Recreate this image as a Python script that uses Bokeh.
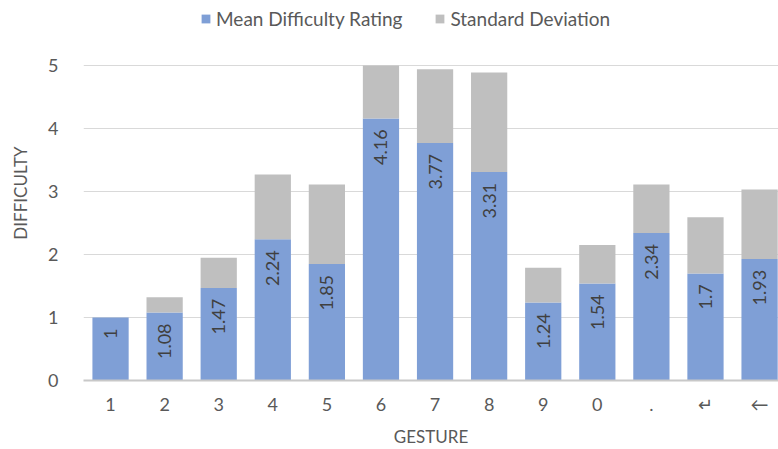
import math
from bokeh.plotting import figure
from bokeh.models import ColumnDataSource, FixedTicker, Range1d, Legend, LegendItem
from bokeh.core.properties import value
from bokeh.embed import file_html
from bokeh.resources import INLINE

gestures = ["1", "2", "3", "4", "5", "6", "7", "8", "9", "0", ".", "\u21b5", "\u2190"]
mean_rating = [1.0, 1.08, 1.47, 2.24, 1.85, 4.16, 3.77, 3.31, 1.24, 1.54, 2.34, 1.7, 1.93]
std_dev = [0.0, 0.24, 0.48, 1.03, 1.26, 0.84, 1.17, 1.58, 0.55, 0.61, 0.77, 0.89, 1.10]
mean_labels = ["1", "1.08", "1.47", "2.24", "1.85", "4.16", "3.77", "3.31", "1.24", "1.54", "2.34", "1.7", "1.93"]
y_ticks = [0, 1, 2, 3, 4, 5]

xs = list(range(len(gestures)))
tops = [m + s for m, s in zip(mean_rating, std_dev)]
src = ColumnDataSource(dict(x=xs, mean=mean_rating, std=std_dev, top=tops, lab=mean_labels))

FONT = "Lato"
GRAY_TXT = "#595959"

# frame spans page y 5..380; value 5 sits at y=65 (63 px per unit)
p = figure(width=778, height=449, output_backend="svg", toolbar_location=None,
           x_range=Range1d(-0.5, 12.35), y_range=Range1d(0, 5.952),
           min_border_left=83, min_border_right=0, min_border_top=5, min_border_bottom=69)
p.outline_line_color = None
p.background_fill_color = "white"
p.border_fill_color = "white"

BLUE = "#7F9FD6"
GRAY = "#BFBFBF"
r1 = p.vbar(x="x", bottom=0, top="mean", width=0.67, source=src, fill_color=BLUE, line_color=None)
r2 = p.vbar(x="x", bottom="mean", top="top", width=0.67, source=src, fill_color=GRAY, line_color=None)

p.text(x="x", y="mean", text="lab", source=src, angle=math.pi / 2, text_align="right",
       text_baseline="middle", y_offset=11, text_font=value(FONT), text_font_size="18px",
       text_color="#404040")

p.xaxis.ticker = FixedTicker(ticks=xs)
p.xaxis.major_label_overrides = {i: g for i, g in enumerate(gestures)}
p.xaxis.major_tick_line_color = None
p.xaxis.minor_tick_line_color = None
p.xaxis.axis_line_color = "#C8C8C8"
p.xaxis.axis_line_width = 2
p.xaxis.major_label_text_font = FONT
p.xaxis.major_label_text_font_size = "18px"
p.xaxis.major_label_text_color = GRAY_TXT
p.xaxis.major_label_standoff = 6
p.xaxis.axis_label = "GESTURE"
p.xaxis.axis_label_text_font = FONT
p.xaxis.axis_label_text_font_style = "normal"
p.xaxis.axis_label_text_font_size = "17px"
p.xaxis.axis_label_text_color = GRAY_TXT
p.xaxis.axis_label_standoff = 8

p.yaxis.ticker = FixedTicker(ticks=y_ticks)
p.yaxis.major_tick_line_color = None
p.yaxis.minor_tick_line_color = None
p.yaxis.axis_line_color = None
p.yaxis.major_label_text_font = FONT
p.yaxis.major_label_text_font_size = "18px"
p.yaxis.major_label_text_color = GRAY_TXT
p.yaxis.major_label_standoff = 19
p.yaxis.axis_label = "DIFFICULTY"
p.yaxis.axis_label_text_font = FONT
p.yaxis.axis_label_text_font_style = "normal"
p.yaxis.axis_label_text_font_size = "17px"
p.yaxis.axis_label_text_color = GRAY_TXT
p.yaxis.axis_label_standoff = 14

p.xgrid.grid_line_color = None
p.ygrid.grid_line_color = "#D9D9D9"
p.ygrid.grid_line_width = 1

legend = Legend(items=[LegendItem(label="Mean Difficulty Rating", renderers=[r1]),
                       LegendItem(label="Standard Deviation", renderers=[r2])],
                orientation="horizontal", location=(117, 350),
                label_text_font=FONT, label_text_font_size="19px", label_text_color=GRAY_TXT,
                glyph_width=11, glyph_height=11, spacing=32, label_standoff=5,
                border_line_color=None, background_fill_alpha=0, padding=0, margin=0)
p.add_layout(legend, "center")

open("out.html", "w").write(file_html(p, INLINE))
